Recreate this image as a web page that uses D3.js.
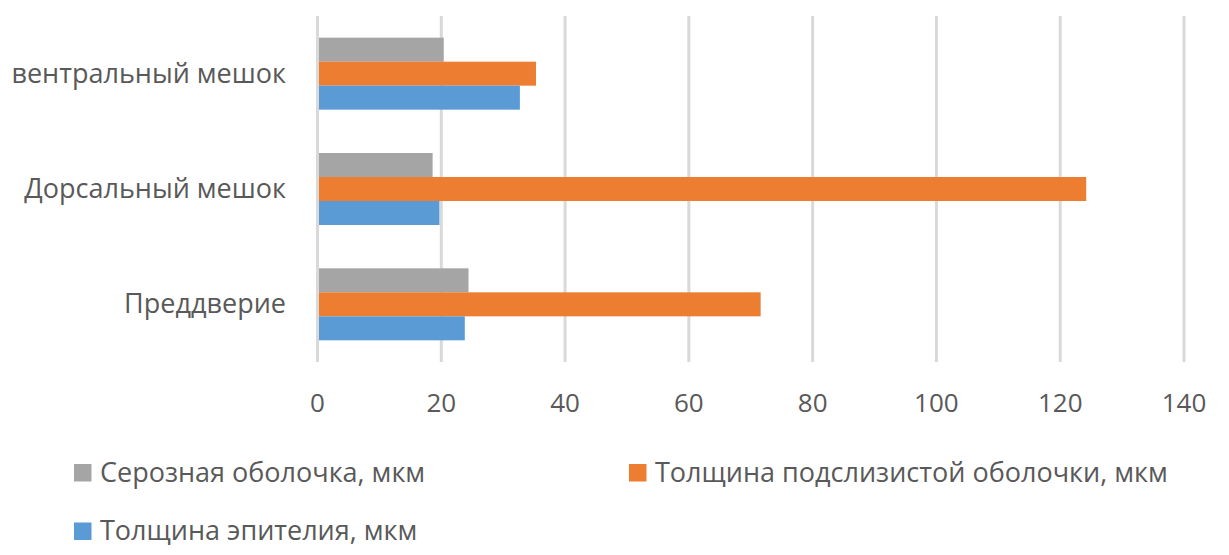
<!DOCTYPE html>
<html>
<head>
<meta charset="utf-8">
<script src="https://cdn.jsdelivr.net/npm/d3@7"></script>
<style>
  body { margin: 0; background: #fff; }
  svg text { font-family: "Open Sans", sans-serif; fill: #595959; }
</style>
</head>
<body>
<div id="chart"></div>
<script>
// categories top to bottom as drawn
const categories = ["вентральный мешок", "Дорсальный мешок", "Преддверие"];
const seriesNames = ["Серозная оболочка, мкм", "Толщина подслизистой оболочки, мкм", "Толщина эпителия, мкм"];
const seriesColors = ["#a5a5a5", "#ed7d31", "#5b9bd5"];
// values per category, same order as categories
const serosa = [20.4, 18.6, 24.4];
const submucosa = [35.3, 124.2, 71.6];
const epithelium = [32.7, 19.7, 23.8];
const xTicks = [0, 20, 40, 60, 80, 100, 120, 140];

const seriesValues = [serosa, submucosa, epithelium];

const width = 1229, height = 555;
const plot = { left: 317.5, right: 1184, top: 16, bottom: 362 };

const svg = d3.select("#chart").append("svg")
  .attr("width", width)
  .attr("height", height);

let x = d3.scaleLinear()
  .domain([0, 140])
  .range([plot.left, plot.right]);

let gap = 0.3757;
let y = d3.scaleBand()
  .domain(categories)
  .range([plot.top, plot.bottom])
  .paddingInner(gap)
  .paddingOuter(gap / 2);

let ySeries = d3.scaleBand()
  .domain(seriesNames)
  .range([0, y.bandwidth()]);

// gridlines
svg.append("g").selectAll("line")
  .data(xTicks).enter().append("line")
  .attr("x1", d => x(d))
  .attr("x2", d => x(d))
  .attr("y1", plot.top)
  .attr("y2", plot.bottom)
  .attr("stroke", "#d9d9d9")
  .attr("stroke-width", 3);

// bars
seriesNames.forEach((name, s) => {
  svg.append("g").selectAll("rect")
    .data(seriesValues[s]).enter().append("rect")
    .attr("x", x(0) + 1.5)
    .attr("y", (d, i) => y(categories[i]) + ySeries(name))
    .attr("width", d => x(d) - x(0) - 1.5)
    .attr("height", ySeries.bandwidth())
    .attr("fill", seriesColors[s]);
});

// x tick labels
svg.append("g").selectAll("text")
  .data(xTicks).enter().append("text")
  .attr("x", d => x(d))
  .attr("y", 411.5)
  .attr("text-anchor", "middle")
  .style("font-size", "26px")
  .text(d => d);

// category labels
svg.append("g").selectAll("text")
  .data(categories).enter().append("text")
  .attr("x", 286)
  .attr("y", d => y(d) + y.bandwidth() / 2 + 9)
  .attr("text-anchor", "end")
  .style("font-size", "27px")
  .text(d => d);

// legend
const legendPos = [
  { x: 74, y: 481.5 },
  { x: 629, y: 481.5 },
  { x: 74, y: 540 }
];
let legend = svg.append("g").selectAll("g")
  .data(seriesNames).enter().append("g")
  .attr("transform", (d, i) => `translate(${legendPos[i].x},${legendPos[i].y})`);

legend.append("rect")
  .attr("x", 0)
  .attr("y", -17.5)
  .attr("width", 17.5)
  .attr("height", 17.5)
  .attr("fill", (d, i) => seriesColors[i]);

legend.append("text")
  .attr("x", 26)
  .attr("y", 0)
  .style("font-size", "27px")
  .text(d => d);
</script>
</body>
</html>
